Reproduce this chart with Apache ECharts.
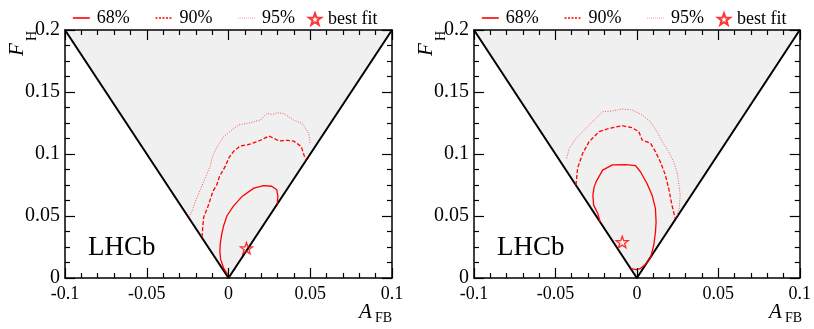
<!DOCTYPE html>
<html><head><meta charset="utf-8">
<script src="https://cdn.jsdelivr.net/npm/echarts@6/dist/echarts.min.js"></script>
<style>html,body{margin:0;padding:0;background:#fff}#c{width:814px;height:329px}</style>
</head><body><div id="c"></div>
<script>
// ---- data ----
const xTickVals = [-0.1, -0.05, 0, 0.05, 0.1];
const xTickLabels = ['-0.1', '-0.05', '0', '0.05', '0.1'];
const yTickVals = [0, 0.05, 0.1, 0.15, 0.2];
const yTickLabels = ['0', '0.05', '0.1', '0.15', '0.2'];
const seriesNames = ['68%', '90%', '95%', 'best fit'];
const boundary = [[-0.1, 0.2], [0, 0], [0.1, 0.2]];

// panel (a)
const a68 = [[0.0005,0.001],[-0.003,0.008],[-0.0048,0.015],[-0.0053,0.022],[-0.005,0.028],[-0.0042,0.035],[-0.003,0.042],[-0.001,0.050],[0.003,0.058],[0.0085,0.066],[0.0155,0.0725],[0.0215,0.0745],[0.0265,0.074],[0.0295,0.0712],[0.0302,0.066],[0.0298,0.0596]];
const a90 = [[-0.0162,0.033],[-0.0158,0.040],[-0.0152,0.049],[-0.013,0.056],[-0.011,0.064],[-0.0095,0.070],[-0.0072,0.075],[-0.0055,0.082],[-0.002,0.090],[0.0003,0.097],[0.003,0.102],[0.0073,0.1065],[0.012,0.1075],[0.0186,0.1105],[0.0247,0.1145],[0.028,0.1125],[0.0308,0.1105],[0.036,0.111],[0.040,0.1103],[0.0445,0.106],[0.0462,0.099],[0.0475,0.095]];
const a95 = [[-0.0242,0.049],[-0.022,0.055],[-0.0202,0.062],[-0.018,0.069],[-0.016,0.075],[-0.0135,0.083],[-0.011,0.091],[-0.0098,0.098],[-0.0069,0.106],[-0.0029,0.114],[0.0033,0.1207],[0.0063,0.1234],[0.0135,0.1253],[0.0196,0.1274],[0.022,0.131],[0.0237,0.1328],[0.0268,0.1318],[0.0298,0.1333],[0.0338,0.1326],[0.037,0.130],[0.040,0.1272],[0.045,0.1247],[0.047,0.121],[0.049,0.1167],[0.050,0.1086]];
const aBest = [[0.011, 0.024]];

// panel (b)
const b68 = [[-0.0225,0.045],[-0.024,0.052],[-0.0266,0.059],[-0.027,0.067],[-0.0262,0.0735],[-0.025,0.0777],[-0.021,0.087],[-0.015,0.0912],[-0.0069,0.0915],[-0.0008,0.0906],[0.0022,0.0857],[0.0063,0.076],[0.0093,0.067],[0.0114,0.056],[0.0118,0.045],[0.0114,0.037],[0.0104,0.0266],[0.0083,0.016],[0.0053,0.011],[0.002,0.0075],[-0.0004,0.0068],[-0.0035,0.0075]];
const b90 = [[-0.0374,0.075],[-0.0364,0.0885],[-0.0333,0.1005],[-0.0293,0.110],[-0.0232,0.118],[-0.0171,0.1207],[-0.009,0.1228],[-0.0029,0.1212],[0.0012,0.118],[0.0032,0.1113],[0.0084,0.1086],[0.0114,0.1019],[0.0144,0.0938],[0.0175,0.083],[0.0195,0.0723],[0.0215,0.059],[0.0235,0.048]];
const b95 = [[-0.0431,0.0965],[-0.0415,0.1046],[-0.0374,0.1126],[-0.0313,0.1207],[-0.0252,0.1288],[-0.0211,0.1341],[-0.015,0.1347],[-0.009,0.1363],[-0.0029,0.1355],[0.0032,0.1315],[0.0084,0.126],[0.0124,0.118],[0.0155,0.110],[0.0195,0.102],[0.0226,0.0938],[0.0246,0.0857],[0.0256,0.0777],[0.0266,0.067],[0.026,0.056],[0.0242,0.0485]];
const bBest = [[-0.009, 0.029]];

const panelLetters = ['(a)', '(b)'];
const panels = [
  {c68: a68, c90: a90, c95: a95, best: aBest},
  {c68: b68, c90: b90, c95: b95, best: bBest}
];

// ---- styles ----
const FONT = 'Liberation Serif';
const grids = [
  {left: 65, top: 30, width: 327, height: 248},
  {left: 474, top: 30, width: 328, height: 248}
];
const starPath = 'path://M0,-10L2.35,-3.24L9.51,-3.09L3.8,1.24L5.88,8.09L0,4L-5.88,8.09L-3.8,1.24L-9.51,-3.09L-2.35,-3.24Z';
const lineStyles = [
  {color: '#ff0000', width: 1.3, type: 'solid'},
  {color: '#ff0000', width: 1.3, type: [4, 2]},
  {color: '#ff5555', width: 1, type: [1, 1.5]}
];
const legendLineStyles = [
  {color: '#ff0000', width: 1.6, type: 'solid'},
  {color: '#ff0000', width: 1.4, type: [2, 1.5]},
  {color: '#ff9a9a', width: 1.2, type: [1, 1]}
];

function lab(vals, labels) {
  return v => { for (let i = 0; i < vals.length; i++) if (Math.abs(vals[i]-v) < 1e-9) return labels[i]; return ''; };
}
const axisLine = {show: true, onZero: false, lineStyle: {color: '#000', width: 1.5}};
function xAx(gi, pos, showLabel) {
  return {type: 'value', gridIndex: gi, position: pos, min: -0.1, max: 0.1, interval: 0.05, z: 10,
    axisLine, axisTick: {show: true, inside: true, length: 10, lineStyle: {color: '#000', width: 1.2}},
    minorTick: {show: true, splitNumber: 5, length: 5, lineStyle: {color: '#000', width: 1.2}},
    splitLine: {show: false}, minorSplitLine: {show: false},
    axisLabel: {show: showLabel, margin: 7, color: '#000', fontFamily: FONT, fontSize: 18, formatter: lab(xTickVals, xTickLabels)}};
}
function yAx(gi, pos, showLabel) {
  return {type: 'value', gridIndex: gi, position: pos, min: 0, max: 0.2, interval: 0.05, z: 10,
    axisLine, axisTick: {show: true, inside: true, length: 10, lineStyle: {color: '#000', width: 1.2}},
    minorTick: {show: true, splitNumber: 4, length: 5, lineStyle: {color: '#000', width: 1.2}},
    splitLine: {show: false}, minorSplitLine: {show: false},
    axisLabel: {show: showLabel, margin: 5, color: '#000', fontFamily: FONT, fontSize: 20, formatter: lab(yTickVals, yTickLabels)}};
}

const xAxis = [], yAxis = [], series = [], graphic = [], legend = [];
panels.forEach((p, gi) => {
  xAxis.push(xAx(gi, 'bottom', true), xAx(gi, 'top', false));
  yAxis.push(yAx(gi, 'left', true), yAx(gi, 'right', false));
  const xi = gi * 2, yi = gi * 2;
  series.push({type: 'line', xAxisIndex: xi, yAxisIndex: yi, data: boundary, symbol: 'none', silent: true, z: 1,
    lineStyle: {color: '#000', width: 2}, areaStyle: {color: '#f0f0f0', origin: 'end', opacity: 1}});
  [p.c68, p.c90, p.c95].forEach((d, k) => {
    series.push({name: seriesNames[k], type: 'line', xAxisIndex: xi, yAxisIndex: yi, data: d, symbol: 'none', z: 3,
      lineStyle: lineStyles[k], itemStyle: {color: lineStyles[k].color}});
  });
  series.push({name: seriesNames[3], type: 'scatter', xAxisIndex: xi, yAxisIndex: yi, data: p.best, z: 4,
    symbol: starPath, symbolSize: 12, symbolKeepAspect: true,
    itemStyle: {color: 'rgba(255,255,255,0)', borderColor: '#ff0000', borderWidth: 1.3}});
  const g = grids[gi];
  legend.push({
    data: seriesNames.slice(0, 3).map((n, k) => ({name: n, itemStyle: {opacity: 0}, lineStyle: legendLineStyles[k]})),
    left: g.left + 2, top: 4, itemGap: 25, itemWidth: 17, itemHeight: 20,
    selectedMode: false, textStyle: {fontFamily: FONT, fontSize: 18, color: '#000', padding: [0, 0, 0, 2]}});
  legend.push({
    data: [seriesNames[3]], left: g.left + 238, top: 5, itemWidth: 12, itemHeight: 12,
    selectedMode: false, textStyle: {fontFamily: FONT, fontSize: 18, color: '#000', padding: [0, 0, 0, 2]}});
  graphic.push({type: 'text', left: g.left + 47, top: 50, style: {text: panelLetters[gi], font: '24px "Liberation Serif"', fill: '#000'}});
  graphic.push({type: 'text', left: g.left + 23, top: 234, style: {text: 'LHCb', font: '27px "Liberation Serif"', fill: '#000'}});
  graphic.push({type: 'text', left: g.left + g.width - 33, top: 302, style: {text: 'A', font: 'italic 21px "Liberation Serif"', fill: '#000'}});
  graphic.push({type: 'text', left: g.left + g.width - 17, top: 311, style: {text: 'FB', font: '14px "Liberation Serif"', fill: '#000'}});
  graphic.push({type: 'text', x: g.left - 58, y: 56, rotation: Math.PI / 2, style: {text: 'F', font: 'italic 21px "Liberation Serif"', fill: '#000'}});
  graphic.push({type: 'text', x: g.left - 40, y: 41, rotation: Math.PI / 2, style: {text: 'H', font: '14px "Liberation Serif"', fill: '#000'}});
});

const chart = echarts.init(document.getElementById('c'), null, {renderer: 'canvas'});
chart.setOption({
  animation: false,
  backgroundColor: '#fff',
  grid: grids.map(g => Object.assign({containLabel: false}, g)),
  xAxis, yAxis, series, legend, graphic
});
</script></body></html>
